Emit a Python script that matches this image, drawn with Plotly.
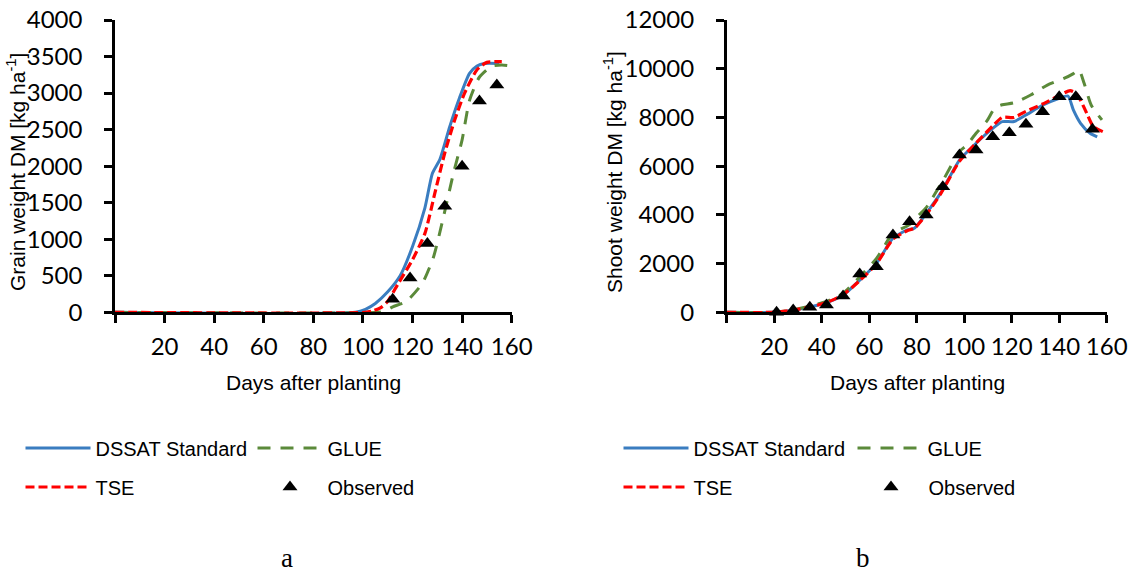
import plotly.graph_objects as go

W, H = 1132, 575

# ---------------- Data: (a) grain weight ----------------
grain_std_days = [0, 97, 101, 105, 110, 115, 120, 125, 128, 131, 135, 139, 143, 146, 149, 155]
grain_std_vals = [0, 0, 40, 120, 280, 500, 900, 1430, 1900, 2090, 2540, 2940, 3270, 3370, 3405, 3405]

grain_glue_days = [0, 106, 109, 112, 117.5, 124, 128.5, 132.5, 136.5, 140, 143, 147, 152, 156, 160]
grain_glue_vals = [0, 0, 20, 75, 150, 400, 760, 1310, 1900, 2360, 2900, 3220, 3370, 3385, 3370]

grain_tse_days = [0, 101, 104, 107, 110, 114, 120, 125, 129, 133, 137, 141, 146, 150, 156]
grain_tse_vals = [0, 0, 20, 60, 150, 380, 720, 1080, 1630, 2180, 2630, 3000, 3320, 3420, 3430]

grain_obs_days = [112, 119, 126, 133, 140, 147, 154]
grain_obs_vals = [180, 470, 940, 1450, 2000, 2890, 3110]

# ---------------- Data: (b) shoot weight ----------------
shoot_std_days = [0, 19, 28, 35, 42, 49, 56, 63, 70, 76, 79, 84, 90, 98, 105, 112, 116, 121, 126, 133, 140, 143.7, 146, 149, 153, 156]
shoot_std_vals = [0, 0, 90, 220, 400, 700, 1320, 2000, 3040, 3380, 3450, 4060, 4880, 6250, 6940, 7550, 7830, 7830, 8100, 8500, 8780, 8880, 8300, 7760, 7350, 7200]

shoot_glue_days = [0, 19, 28, 35, 42, 49, 56, 63, 70, 77, 81, 84, 91, 98, 101, 105, 109.5, 113, 116, 121, 128, 135, 142, 146, 148.3, 150.5, 153.5, 158]
shoot_glue_vals = [0, 0, 100, 250, 450, 780, 1450, 2200, 3240, 3600, 4000, 4300, 5400, 6600, 6850, 7350, 7850, 8400, 8520, 8600, 8920, 9330, 9600, 9800, 9950, 9400, 8500, 7900]

shoot_tse_days = [0, 19, 28, 35, 42, 49, 56, 63, 70, 76, 79, 84, 90, 98, 105, 112, 116, 121, 126, 133, 140, 144.6, 147, 149, 151.6, 154.4, 159.5]
shoot_tse_vals = [0, 0, 90, 220, 400, 720, 1300, 1980, 3000, 3350, 3450, 4000, 4850, 6200, 6950, 7650, 8000, 8000, 8250, 8550, 8900, 9100, 9000, 8700, 8170, 7620, 7370]

shoot_obs_days = [21, 28, 35, 42, 49, 56, 63, 70, 77, 84, 91, 98, 105, 112, 119, 126, 133, 140, 147, 154]
shoot_obs_vals = [0, 94, 205, 300, 670, 1572, 1872, 3173, 3720, 3994, 5157, 6458, 6663, 7210, 7374, 7716, 8236, 8852, 8852, 7513]

x_ticks = [0, 20, 40, 60, 80, 100, 120, 140, 160]
x_ticktext = [""] + [str(v) for v in x_ticks[1:]]

BLUE = "#3A7DC0"
GREEN = "#5B8A3A"
RED = "#FF0000"

fig = go.Figure()

def add_panel(xa, ya, std, glue, tse, obs, legs):
    fig.add_trace(go.Scatter(x=std[0], y=std[1], mode="lines", name="DSSAT Standard",
                             line=dict(color=BLUE, width=3, shape="spline", smoothing=0.6),
                             xaxis=xa, yaxis=ya, cliponaxis=False, legend=legs[0]))
    fig.add_trace(go.Scatter(x=glue[0], y=glue[1], mode="lines", name="GLUE",
                             line=dict(color=GREEN, width=3, dash="13px,10px", shape="spline", smoothing=0.6),
                             xaxis=xa, yaxis=ya, cliponaxis=False, legend=legs[1]))
    fig.add_trace(go.Scatter(x=tse[0], y=tse[1], mode="lines", name="TSE",
                             line=dict(color=RED, width=3.2, dash="9px,4px", shape="spline", smoothing=0.6),
                             xaxis=xa, yaxis=ya, cliponaxis=False, legend=legs[2]))
    fig.add_trace(go.Scatter(x=obs[0], y=obs[1], mode="markers", name="Observed",
                             marker=dict(symbol="triangle-up", size=13, color="black"),
                             xaxis=xa, yaxis=ya, cliponaxis=False, legend=legs[3]))

add_panel("x", "y",
          (grain_std_days, grain_std_vals), (grain_glue_days, grain_glue_vals),
          (grain_tse_days, grain_tse_vals), (grain_obs_days, grain_obs_vals),
          ["legend", "legend2", "legend3", "legend4"])
add_panel("x2", "y2",
          (shoot_std_days, shoot_std_vals), (shoot_glue_days, shoot_glue_vals),
          (shoot_tse_days, shoot_tse_vals), (shoot_obs_days, shoot_obs_vals),
          ["legend5", "legend6", "legend7", "legend8"])

tick_font = dict(family="Lato, Liberation Sans, sans-serif", size=24, color="black")
title_font = dict(family="Liberation Sans, Arial, sans-serif", size=21, color="black")
leg_font = dict(family="Liberation Sans, Arial, sans-serif", size=20, color="black")

def px(x):
    return x / W

def py(y):
    return 1 - y / H

common_axis = dict(showline=True, linecolor="black", linewidth=2.5, ticks="outside",
                   ticklen=8, tickwidth=2.5, tickcolor="black", showgrid=False,
                   zeroline=False, tickfont=tick_font, automargin=False)
x_axis_style = dict(common_axis, ticklabelstandoff=3)
y_axis_style = dict(common_axis, ticklabelstandoff=17)

ydom = [py(312.3), py(20)]
fig.update_layout(
    template="none",
    width=W, height=H,
    margin=dict(l=0, r=0, t=0, b=0, autoexpand=False),
    paper_bgcolor="white", plot_bgcolor="white",
    xaxis=dict(domain=[px(115), px(511.7)], range=[0, 160], tickvals=x_ticks,
               ticktext=x_ticktext, anchor="y", **x_axis_style),
    yaxis=dict(domain=ydom, range=[0, 4000], dtick=500, tick0=0, tickformat="d",
               anchor="x", **y_axis_style),
    xaxis2=dict(domain=[px(726.7), px(1106.7)], range=[0, 160], tickvals=x_ticks,
                ticktext=x_ticktext, anchor="y2", **x_axis_style),
    yaxis2=dict(domain=ydom, range=[0, 12000], dtick=2000, tick0=0, tickformat="d",
                anchor="x2", **y_axis_style),
    showlegend=True,
)

leg_common = dict(xanchor="left", yanchor="middle", orientation="v", font=leg_font,
                  bgcolor="rgba(0,0,0,0)", borderwidth=0, itemwidth=65, itemclick=False)
row1, row2 = py(448), py(487)
legend_pos = {
    "legend": (20.5, row1), "legend2": (252.5, row1), "legend3": (20.5, row2), "legend4": (252.5, row2),
    "legend5": (618.5, row1), "legend6": (852.5, row1), "legend7": (618.5, row2), "legend8": (853.5, row2),
}
for k, (lx, ly) in legend_pos.items():
    fig.update_layout({k: dict(x=px(lx), y=ly, **leg_common)})

label_font = dict(family="Liberation Serif, serif", size=27, color="black")
annotations = [
    dict(text="Days after planting", x=px(313), y=py(382), font=title_font),
    dict(text="Days after planting", x=px(917), y=py(382), font=title_font),
    dict(text="Grain weight DM [kg ha<sup>-1</sup>]", x=px(16), y=py(172), textangle=-90, font=title_font),
    dict(text="Shoot weight DM [kg ha<sup>-1</sup>]", x=px(613), y=py(172), textangle=-90, font=title_font),
    dict(text="a", x=px(287), y=py(558), font=label_font),
    dict(text="b", x=px(863), y=py(558), font=label_font),
]
for a in annotations:
    a.update(xref="paper", yref="paper", showarrow=False, xanchor="center", yanchor="middle")
fig.update_layout(annotations=annotations)

fig.write_html("out.html",
               config={"displayModeBar": False},
               post_script="document.body.style.margin='0px';document.body.style.overflow='hidden';")
